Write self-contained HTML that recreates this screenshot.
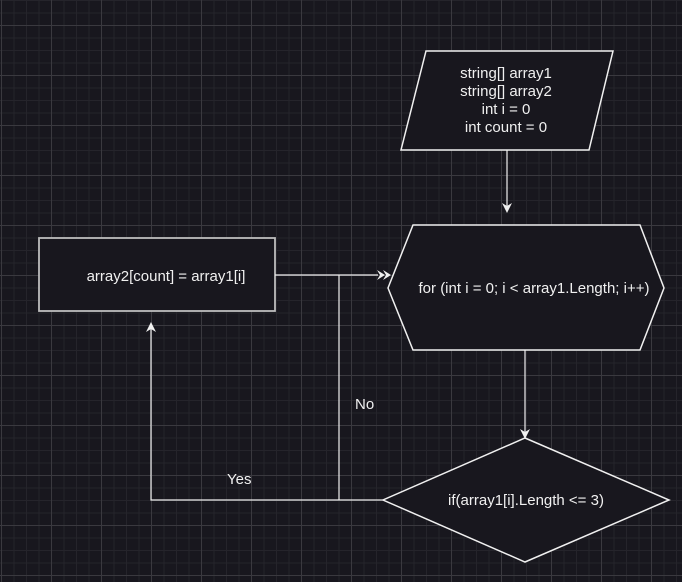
<!DOCTYPE html>
<html><head><style>
html,body{margin:0;padding:0}
body{width:682px;height:582px;overflow:hidden;background-color:#18171e;
background-image:
linear-gradient(#3a393f 1px,transparent 1px),
linear-gradient(90deg,#3a393f 1px,transparent 1px),
linear-gradient(#25242b 1px,transparent 1px),
linear-gradient(90deg,#25242b 1px,transparent 1px);
background-size:50px 50px,50px 50px,12.5px 12.5px,12.5px 12.5px;
background-position:0 25px,1px 0,0 0px,1px 0;}
svg{position:absolute;left:0;top:0}
text{font-family:"Liberation Sans",Arial,sans-serif;font-size:15px;fill:#f0f0f0}
</style></head><body>
<svg width="682" height="582" viewBox="0 0 682 582">
<polygon points="426,51 613,51 589,150 401,150" fill="#18171e" stroke="#f0f0f0" stroke-width="1.5"/>
<text x="506" y="78" text-anchor="middle">string[] array1</text>
<text x="506" y="96" text-anchor="middle">string[] array2</text>
<text x="506" y="114" text-anchor="middle">int i = 0</text>
<text x="506" y="132" text-anchor="middle">int count = 0</text>
<line x1="507" y1="150" x2="507" y2="206" stroke="#f0f0f0" stroke-width="1.2"/>
<polygon points="502,203 507,213 512,203 507,206" fill="#f0f0f0"/>
<polygon points="413,225 640,225 664,288 640,350 413,350 388,288" fill="#18171e" stroke="#f0f0f0" stroke-width="1.5"/>
<text x="534" y="293" text-anchor="middle">for (int i = 0; i &lt; array1.Length; i++)</text>
<line x1="525" y1="350" x2="525" y2="432" stroke="#f0f0f0" stroke-width="1.2"/>
<polygon points="520,429 525,439 530,429 525,432" fill="#f0f0f0"/>
<polygon points="525,438 669,500 525,562 383,500" fill="#18171e" stroke="#f0f0f0" stroke-width="1.5"/>
<text x="526" y="505" text-anchor="middle">if(array1[i].Length &lt;= 3)</text>
<rect x="39" y="238" width="236" height="73" fill="#18171e" stroke="#bdbdbd" stroke-width="1.8"/>
<text x="166" y="281" text-anchor="middle">array2[count] = array1[i]</text>
<polyline points="275,275 378,275" fill="none" stroke="#f0f0f0" stroke-width="1.2"/>
<polygon points="377,270 385,275 377,280 380,275" fill="#f0f0f0"/>
<polygon points="383,270 391,275 383,280 386,275" fill="#f0f0f0"/>
<polyline points="383,500 151,500 151,329" fill="none" stroke="#f0f0f0" stroke-width="1.2"/>
<polygon points="146,332 151,322 156,332 151,329" fill="#f0f0f0"/>
<line x1="339" y1="275" x2="339" y2="500" stroke="#f0f0f0" stroke-width="1.2"/>
<text x="355" y="409">No</text>
<text x="227" y="484">Yes</text>
</svg>
</body></html>
